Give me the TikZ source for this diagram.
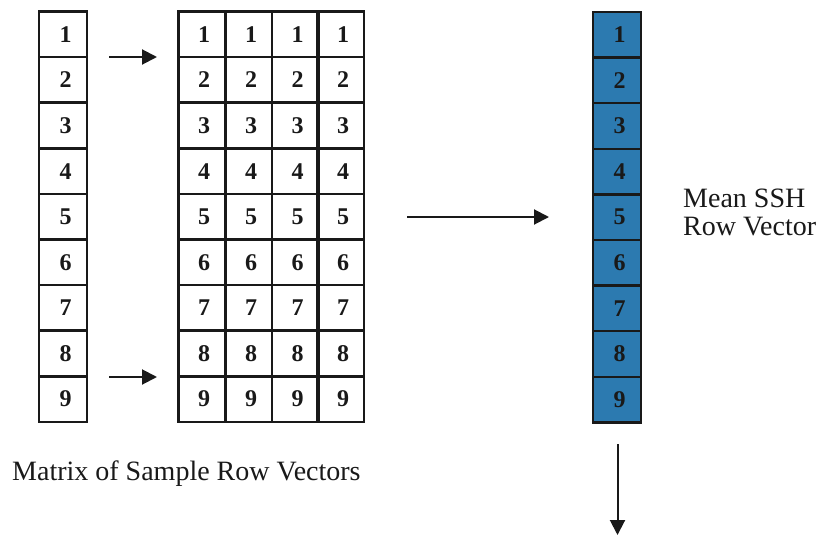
\documentclass[tikz,border=0pt]{standalone}
\usepackage{fontspec}
\setmainfont{Liberation Serif}
\usetikzlibrary{arrows.meta}
\definecolor{cellblue}{RGB}{44,122,176}
\definecolor{ink}{RGB}{25,25,25}
\begin{document}
\begin{tikzpicture}[x=1pt,y=-1pt,
  cell/.style={draw=ink, line width=2.5pt, minimum width=#1, minimum height=45.6pt, inner sep=0pt, outer sep=0pt,
    font=\fontsize{24}{24}\selectfont\bfseries, text=ink},
  bluecell/.style={cell=48pt, fill=cellblue},
  conn/.style={line width=2pt, draw=ink, -{Triangle[length=15pt,width=15pt]}},
  lbl/.style={font=\fontsize{28}{28}\selectfont, text=ink, inner sep=0pt}]
\useasboundingbox (0,0) rectangle (824,535);
\foreach \i in {1,...,9}{
  \pgfmathsetmacro{\yc}{11.5+(\i-0.5)*45.6}
  \node[cell=48pt] (L\i) at (63,\yc) {\raisebox{-4pt}{\hspace{5pt}\i}};
  \foreach \j/\xc in {1/201.5,2/248.5,3/295,4/340.5}{
    \node[cell=46.5pt] (M\i-\j) at (\xc,\yc) {\raisebox{-4pt}{\hspace{5pt}\i}};
  }
  \node[bluecell] (B\i) at (617,\yc+0.5) {\raisebox{-4pt}{\hspace{5pt}\i}};
}
\coordinate (a1s) at (109,57);
\coordinate (a1e) at (157,57);
\coordinate (a2s) at (109,377);
\coordinate (a2e) at (157,377);
\coordinate (a3s) at (407,217);
\coordinate (a3e) at (549,217);
\coordinate (a4s) at (617.5,444);
\coordinate (a4e) at (617.5,535);
\draw[conn] (a1s) -- (a1e);
\draw[conn] (a2s) -- (a2e);
\draw[conn] (a3s) -- (a3e);
\draw[conn] (a4s) -- (a4e);
\node[lbl, anchor=base west] (t1) at (683,207) {Mean SSH};
\node[lbl, anchor=base west] (t2) at (683,235) {Row Vector};
\node[lbl, anchor=base west] (t3) at (12,480) {Matrix of Sample Row Vectors};
\end{tikzpicture}
\end{document}
